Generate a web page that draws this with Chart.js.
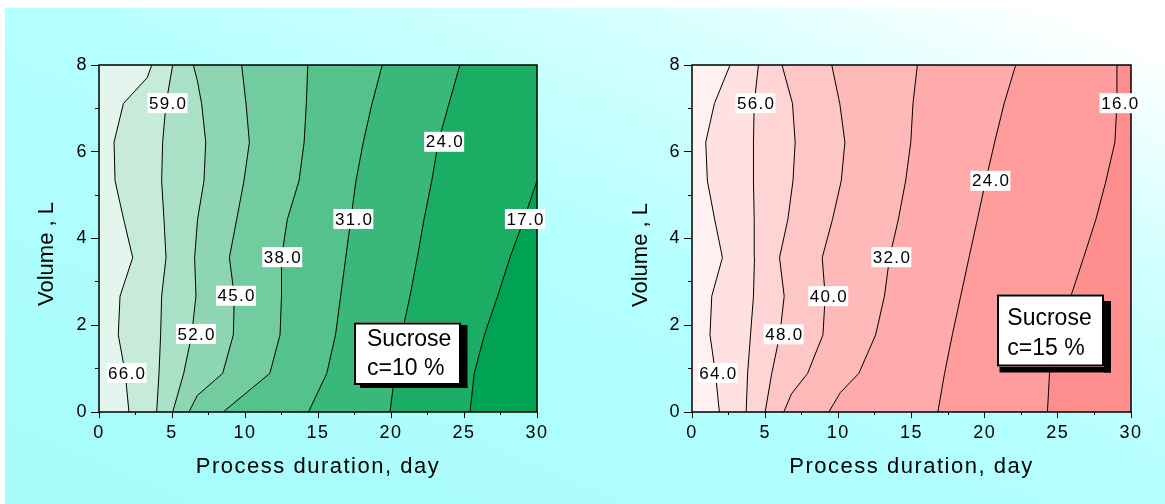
<!DOCTYPE html>
<html>
<head>
<meta charset="utf-8">
<script src="https://cdn.jsdelivr.net/npm/chart.js@4.4.1/dist/chart.umd.min.js"></script>
<style>
  body { margin: 0; background: #fff; }
  #bg { position: absolute; left: 5px; top: 8px; width: 1160px; height: 496px;
        background: linear-gradient(to top right, #a6fbfb 0%, #b4ffff 50%, #d4ffff 75%, #ffffff 95%); }
  canvas { position: absolute; top: 0; }
  #left { left: 0; }
  #right { left: 585px; }
</style>
</head>
<body>
<div id="bg"></div>
<canvas id="left" width="585" height="504"></canvas>
<canvas id="right" width="580" height="504"></canvas>
<script>
// contour lines as [day, volume] vertices, sucrose c = 10 %
const green66 = [[2.05,0],[1.8,0.89],[1.32,1.78],[1.44,2.67],[2.31,3.56],[1.69,4.44],[1.1,5.33],[1.03,6.22],[1.67,7.11],[3.31,7.71],[3.61,8]];
const green59 = [[3.95,0],[4.11,0.89],[4.22,1.78],[4.29,2.67],[4.59,3.56],[4.45,4.44],[4.29,5.33],[4.36,6.22],[4.59,7.11],[5.05,8]];
const green52 = [[5.05,0],[5.8,0.89],[6.35,1.78],[6.64,2.67],[6.55,3.56],[6.75,4.44],[7.19,5.33],[7.31,6.22],[7.03,7.11],[6.73,7.65],[6.46,8]];
const green45 = [[6.16,0],[6.73,0.38],[8.47,0.89],[9.2,1.78],[9.27,2.67],[8.93,3.56],[9.43,4.44],[9.93,5.33],[10.3,6.22],[10.07,7.11],[9.77,8]];
const green38 = [[8.5,0],[11.7,0.89],[12.4,1.78],[12.5,2.67],[12.5,3.56],[12.9,4.44],[13.7,5.33],[14.05,6.22],[14.2,7.11],[14.3,8]];
const green31 = [[14.35,0],[15.6,0.89],[16.2,1.78],[16.55,2.67],[16.9,3.56],[17.25,4.44],[17.6,5.33],[18.1,6.22],[18.7,7.11],[19.4,8]];
const green24 = [[19.93,0],[20.27,0.89],[20.73,1.78],[21.3,2.67],[21.8,3.56],[22.26,4.44],[22.79,5.33],[23.24,6.22],[23.97,7.11],[24.72,8]];
const green17 = [[25.41,0],[25.7,0.89],[26.4,1.78],[27.3,2.67],[28.15,3.56],[29.1,4.44],[30,5.33]];
const greenLabels = ['66.0','59.0','52.0','45.0','38.0','31.0','24.0','17.0'];
const greenLabelAt = [[1.88,0.9],[4.69,7.12],[6.64,1.8],[9.38,2.68],[12.55,3.57],[17.42,4.45],[23.64,6.23],[29.17,4.45]];
const greenFills = ['#e3f5ec','#c7ebd9','#aae0c6','#8ed6b2','#72cc9f','#55c28c','#39b879','#1cad65','#00a352'];

// sucrose c = 15 %
const red64 = [[1.87,0],[1.6,0.89],[1.23,1.78],[1.35,2.67],[2.08,3.56],[1.55,4.44],[1.05,5.33],[0.94,6.22],[1.53,7.11],[2.6,8]];
const red56 = [[3.7,0],[3.8,0.89],[4.0,1.78],[4.2,2.67],[4.27,3.56],[4.25,4.44],[4.2,5.33],[4.2,6.22],[4.25,7.11],[4.54,8]];
const red48 = [[5.0,0],[5.45,0.89],[6.0,1.78],[6.3,2.67],[5.98,3.56],[6.55,4.44],[6.9,5.33],[7.05,6.22],[6.87,7.11],[6.15,8]];
const red40 = [[6.27,0],[6.8,0.42],[7.9,0.89],[8.95,1.78],[9.1,2.67],[8.9,3.56],[9.6,4.44],[10.2,5.33],[10.45,6.22],[10.1,7.11],[9.55,8]];
const red32 = [[9.35,0],[10.14,0.45],[11.4,0.89],[12.55,1.78],[13.15,2.67],[13.5,3.56],[14.1,4.44],[14.6,5.33],[14.95,6.22],[15.1,7.11],[15.4,8]];
const red24 = [[16.8,0],[17.26,0.89],[17.79,1.78],[18.36,2.67],[18.93,3.56],[19.5,4.44],[20.07,5.33],[20.68,6.22],[21.33,7.11],[22.12,8]];
const red16 = [[24.29,0],[24.43,0.89],[25.02,1.78],[25.89,2.67],[26.76,3.56],[27.6,4.44],[28.29,5.33],[28.9,6.22],[29.04,7.11],[29.04,8]];
const redLabels = ['64.0','56.0','48.0','40.0','32.0','24.0','16.0'];
const redLabelAt = [[1.75,0.9],[4.34,7.12],[6.26,1.79],[9.31,2.67],[13.62,3.57],[20.39,5.33],[29.22,7.12]];
const redFills = ['#fff1f1','#ffe1e1','#ffd4d4','#ffc6c6','#ffb9b9','#ffabab','#ff9d9d','#ff8f8f'];

const leftEdge = [[0,0],[0,8]];
const font = 'Liberation Sans, Arial, sans-serif';

function contourChart(id, lines, labels, labelAt, fills, info) {
    const datasets = [leftEdge, ...lines].map((pts, i) => ({
        data: pts.map(p => ({x: p[0], y: p[1]})),
        borderColor: '#000',
        borderWidth: i === 0 ? 0 : 1,
        backgroundColor: fills[i],
        fill: {value: 30},
        pointRadius: 0,
        tension: 0,
        order: 100 - i
    }));

    const decor = {
        id: 'decor',
        beforeDraw(chart) {
            chart.ctx.letterSpacing = '1.5px';
        },
        afterDatasetsDraw(chart) {
            const ctx = chart.ctx;
            const {left, top, right, bottom} = chart.chartArea;
            const xs = chart.scales.x, ys = chart.scales.y;
            ctx.save();
            ctx.strokeStyle = '#000';
            ctx.lineWidth = 1.5;
            ctx.strokeRect(left, top, right - left, bottom - top);

            // contour value labels
            ctx.font = '17px ' + font;
            ctx.textAlign = 'center';
            ctx.textBaseline = 'middle';
            ctx.letterSpacing = '1.3px';
            labels.forEach((t, i) => {
                const px = xs.getPixelForValue(labelAt[i][0]);
                const py = ys.getPixelForValue(labelAt[i][1]);
                ctx.fillStyle = '#fff';
                ctx.fillRect(px - 20, py - 10, 40, 20);
                ctx.fillStyle = '#000';
                ctx.fillText(t, px + 0.7, py + 1);
            });

            // sucrose note box with shadow
            const b = info.box;
            ctx.fillStyle = '#000';
            ctx.fillRect(...info.shadowRight);
            ctx.fillRect(...info.shadowBottom);
            ctx.fillStyle = '#fff';
            ctx.fillRect(b[0], b[1], b[2], b[3]);
            ctx.lineWidth = 2;
            ctx.strokeRect(b[0] + 1, b[1] + 1, b[2] - 2, b[3] - 2);
            ctx.fillStyle = '#000';
            ctx.font = '23px ' + font;
            ctx.textAlign = 'left';
            ctx.textBaseline = 'alphabetic';
            ctx.letterSpacing = '0px';
            ctx.fillText('Sucrose', info.textX, info.baselines[0]);
            ctx.fillText(info.conc, info.textX, info.baselines[1]);

            // y axis title
            ctx.font = '22px ' + font;
            ctx.textAlign = 'center';
            ctx.textBaseline = 'middle';
            ctx.translate(info.yTitle[0], info.yTitle[1]);
            ctx.rotate(-Math.PI / 2);
            ctx.fillText('Volume , L', 0, 0);
            ctx.restore();
        }
    };

    new Chart(document.getElementById(id), {
        type: 'line',
        data: {datasets: datasets},
        options: {
            indexAxis: 'y',
            responsive: false,
            animation: false,
            layout: {padding: {left: 0, right: info.padRight, top: 65, bottom: 0}},
            plugins: {legend: {display: false}, tooltip: {enabled: false}},
            scales: {
                x: {
                    type: 'linear', min: 0, max: 30,
                    afterFit: s => { s.height = 92; },
                    border: {display: false},
                    grid: {
                        drawOnChartArea: false, tickLength: 6, tickColor: '#000', tickWidth: 1,
                        tickBorderDash: c => (c.tick && c.tick.value % 5) ? [3, 20] : []
                    },
                    ticks: {
                        stepSize: 2.5, autoSkip: false, maxRotation: 0, padding: 4, color: '#000',
                        font: {family: font, size: 18},
                        callback: v => v % 5 === 0 ? String(v) : ''
                    },
                    title: {
                        display: true, text: 'Process duration, day', color: '#000',
                        font: {family: font, size: 22}, padding: {top: 0, bottom: 24}
                    }
                },
                y: {
                    type: 'linear', min: 0, max: 8,
                    afterFit: s => { s.width = info.yWidth; },
                    border: {display: false},
                    grid: {
                        drawOnChartArea: false, tickLength: 8, tickColor: '#000', tickWidth: 1,
                        tickBorderDash: c => (c.tick && c.tick.value % 2) ? [4, 20] : [],
                        tickBorderDashOffset: c => (c.tick && c.tick.value % 2) ? 20 : 0
                    },
                    ticks: {
                        stepSize: 1, autoSkip: false, padding: 3, color: '#000',
                        font: {family: font, size: 18},
                        callback: v => v % 2 === 0 ? String(v) : ''
                    }
                }
            }
        },
        plugins: [decor]
    });
}

contourChart('left',
    [green66, green59, green52, green45, green38, green31, green24, green17],
    greenLabels, greenLabelAt, greenFills,
    {
        padRight: 48, yWidth: 99, yTitle: [47, 254], conc: 'c=10 %',
        box: [354, 322.5, 107, 62.5], shadowRight: [461, 325, 6.5, 63], shadowBottom: [360, 385, 107.5, 3],
        textX: 367, baselines: [346, 375]
    });

contourChart('right',
    [red64, red56, red48, red40, red32, red24, red16],
    redLabels, redLabelAt, redFills,
    {
        padRight: 34, yWidth: 107, yTitle: [55.5, 255], conc: 'c=15 %',
        box: [412, 294.5, 107, 72], shadowRight: [519, 301, 7, 71.5], shadowBottom: [414.5, 367, 111.5, 5.5],
        textX: 422.3, baselines: [325, 355]
    });
</script>
</body>
</html>
